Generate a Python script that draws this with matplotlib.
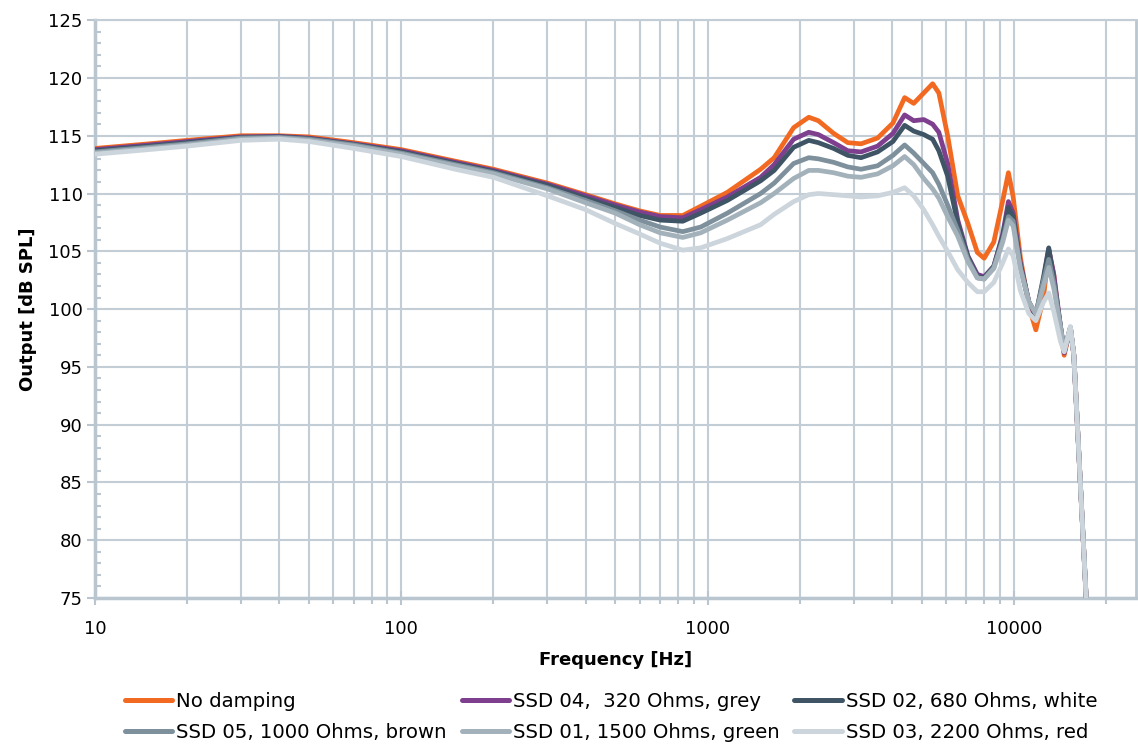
import matplotlib
matplotlib.use("Agg")
import matplotlib.pyplot as plt
from matplotlib.ticker import LogLocator, FixedLocator, NullFormatter, MultipleLocator

plt.rcParams['font.family'] = ['DejaVu Sans']

freq = [10, 15, 20, 30, 40, 50, 70, 100, 150, 200, 300, 400, 500, 600, 700,
        830, 950, 1160, 1490, 1650, 1910, 2140, 2300, 2580, 2870,
        3170, 3590, 4030, 4400, 4710, 5080, 5430, 5690, 6080, 6560,
        7080, 7600, 8000, 8600, 9200, 9600, 9950, 10500, 11200, 11800,
        12500, 13000, 13500, 14200, 14600, 15300, 15700, 17300]

no_damping = [113.9, 114.3, 114.6, 115.0, 115.0, 114.9, 114.4, 113.8, 112.8, 112.1, 110.9, 109.9, 109.1, 108.5, 108.1,
              108.1, 108.9, 110.1, 112.1, 113.1, 115.7, 116.6, 116.3, 115.2, 114.4,
              114.3, 114.8, 116.1, 118.3, 117.8, 118.7, 119.5, 118.7, 115.0, 109.8,
              107.4, 104.9, 104.4, 105.8, 109.4, 111.8, 109.7, 104.5, 100.2, 98.2,
              101.0, 105.1, 103.0, 98.2, 96.0, 98.4, 96.0, 74.0]
ssd04 = [113.8, 114.2, 114.5, 114.9, 114.95, 114.8, 114.3, 113.7, 112.7, 112.0, 110.8, 109.8, 109.0, 108.4, 108.0,
         107.9, 108.6, 109.7, 111.4, 112.5, 114.7, 115.3, 115.1, 114.4, 113.7,
         113.6, 114.1, 115.2, 116.8, 116.3, 116.4, 116.0, 115.3, 112.6, 107.7,
         104.6, 103.0, 102.8, 103.7, 106.5, 109.3, 108.3, 104.0, 100.6, 99.3,
         102.5, 105.2, 103.0, 98.5, 96.2, 98.4, 96.0, 74.0]
ssd02 = [113.7, 114.1, 114.4, 114.85, 114.9, 114.75, 114.25, 113.6, 112.6, 111.9, 110.7, 109.6, 108.8, 108.1, 107.7,
         107.6, 108.3, 109.4, 111.1, 112.0, 114.0, 114.6, 114.4, 113.9, 113.3,
         113.1, 113.6, 114.5, 115.9, 115.4, 115.1, 114.7, 113.7, 111.5, 107.4,
         104.5, 102.8, 102.7, 103.7, 106.3, 108.8, 108.0, 103.8, 100.6, 99.5,
         102.8, 105.3, 102.5, 98.5, 96.4, 98.4, 96.0, 74.0]
ssd05 = [113.6, 114.0, 114.3, 114.8, 114.85, 114.7, 114.2, 113.5, 112.5, 111.8, 110.5, 109.4, 108.5, 107.7, 107.1,
         106.7, 107.1, 108.3, 110.0, 110.9, 112.6, 113.1, 113.0, 112.7, 112.3,
         112.1, 112.4, 113.3, 114.2, 113.5, 112.6, 111.8, 110.8, 109.0, 106.8,
         104.3, 102.7, 102.6, 103.6, 106.0, 108.0, 107.6, 103.6, 100.6, 99.6,
         102.5, 104.3, 102.3, 98.5, 96.4, 98.4, 96.0, 74.0]
ssd01 = [113.5, 113.9, 114.2, 114.7, 114.8, 114.6, 114.1, 113.4, 112.4, 111.7, 110.4, 109.2, 108.3, 107.3, 106.6,
         106.2, 106.6, 107.7, 109.2, 110.0, 111.3, 112.0, 112.0, 111.8, 111.5,
         111.4, 111.7, 112.4, 113.2, 112.5, 111.3, 110.4, 109.6, 108.0, 106.3,
         104.1, 102.7, 102.6, 103.5, 105.8, 107.7, 107.2, 103.5, 100.6, 99.6,
         102.0, 103.6, 101.8, 98.4, 96.4, 98.4, 96.0, 74.0]
ssd03 = [113.4, 113.8, 114.1, 114.6, 114.7, 114.5, 113.9, 113.2, 112.1, 111.4, 109.8, 108.6, 107.4, 106.5, 105.7,
         105.1, 105.3, 106.1, 107.3, 108.2, 109.3, 109.9, 110.0, 109.9, 109.8,
         109.7, 109.8, 110.1, 110.5, 109.8, 108.6, 107.3, 106.3, 105.0, 103.4,
         102.3, 101.5, 101.5, 102.3, 104.0, 105.2, 104.6, 101.6, 99.6, 99.0,
         100.6, 101.4, 99.8, 97.2, 96.3, 98.5, 96.0, 74.0]

labels = ["No damping", "SSD 04,  320 Ohms, grey", "SSD 02, 680 Ohms, white",
          "SSD 05, 1000 Ohms, brown", "SSD 01, 1500 Ohms, green", "SSD 03, 2200 Ohms, red"]
series = [no_damping, ssd04, ssd02, ssd05, ssd01, ssd03]
colors = ["#F26A21", "#7E3F8E", "#3F5566", "#7D909C", "#A3B1BA", "#CDD5DC"]

x_ticks = [10, 100, 1000, 10000]
x_ticklabels = ["10", "100", "1000", "10000"]
y_ticks = list(range(75, 126, 5))

grid_c = "#C3CDD5"
spine_c = "#BAC6CF"

fig = plt.figure(figsize=(11.38, 7.47), dpi=100)
ax = fig.add_axes([0.0835, 0.1995, 0.9145, 0.7735])

handles = []
for s, c, lab in zip(series, colors, labels):
    h, = ax.plot(freq, s, color=c, lw=3.4, label=lab, solid_joinstyle='round',
                 solid_capstyle='round', zorder=3)
    handles.append(h)

ax.set_xscale('log')
ax.set_xlim(10, 25000)
ax.set_ylim(75, 125)

ax.xaxis.set_major_locator(FixedLocator(x_ticks))
ax.set_xticklabels(x_ticklabels)
ax.xaxis.set_minor_locator(LogLocator(base=10, subs=range(2, 10), numticks=20))
ax.xaxis.set_minor_formatter(NullFormatter())
ax.yaxis.set_major_locator(FixedLocator(y_ticks))
ax.yaxis.set_minor_locator(MultipleLocator(1))

ax.grid(which='major', axis='both', color=grid_c, lw=1.5, zorder=0)
ax.grid(which='minor', axis='x', color=grid_c, lw=1.5, zorder=0)
ax.set_axisbelow(True)

for sp in ['left', 'bottom']:
    ax.spines[sp].set_color(spine_c)
    ax.spines[sp].set_linewidth(2.5)
ax.spines['right'].set_color(spine_c)
ax.spines['right'].set_linewidth(2.0)
ax.spines['top'].set_color(grid_c)
ax.spines['top'].set_linewidth(1.5)

ax.tick_params(axis='y', which='major', direction='out', length=6, width=1.5,
               color=spine_c, labelsize=13, pad=3)
ax.tick_params(axis='y', which='minor', direction='in', length=4, width=1.5, color=spine_c)
ax.tick_params(axis='x', which='major', direction='inout', length=10, width=1.5,
               color=spine_c, labelsize=13, pad=11)
ax.tick_params(axis='x', which='minor', direction='out', length=4, width=1.5, color=spine_c)

ax.set_xlabel("Frequency [Hz]", fontsize=13, fontweight='bold', labelpad=9)
ax.set_ylabel("Output [dB SPL]", fontsize=13, fontweight='bold', labelpad=8)

order = [0, 3, 1, 4, 2, 5]
leg = fig.legend([handles[i] for i in order], [labels[i] for i in order],
                 loc='center', bbox_to_anchor=(0.537, 0.0405), ncol=3,
                 frameon=False, fontsize=14.2, handlelength=2.4, handletextpad=0.2,
                 columnspacing=0.75, labelspacing=0.6, borderpad=0)
for l in leg.get_lines():
    l.set_linewidth(3.6)

fig.savefig("out.png", dpi=100)
